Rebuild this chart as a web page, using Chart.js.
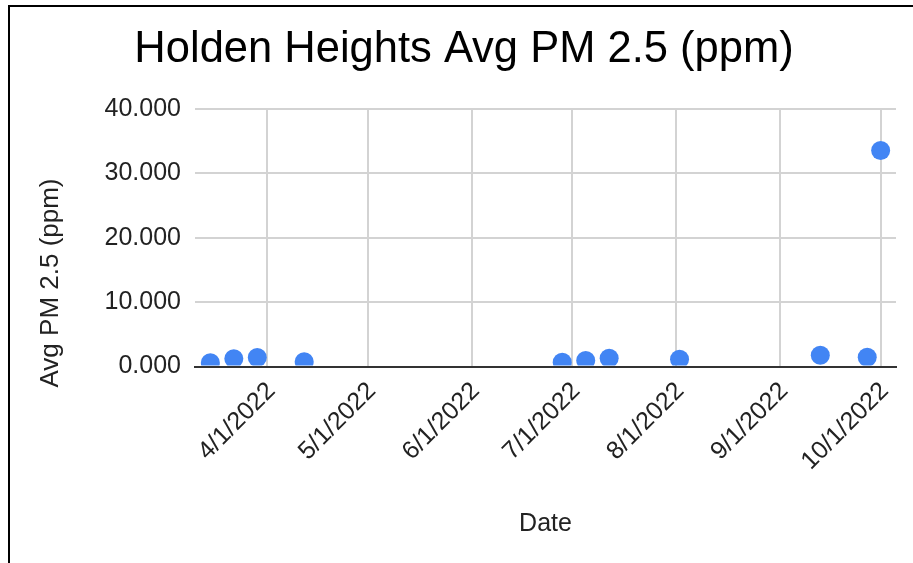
<!DOCTYPE html>
<html>
<head>
<meta charset="utf-8">
<script src="https://cdn.jsdelivr.net/npm/chart.js@4.4.1/dist/chart.umd.min.js"></script>
<style>
  html, body { margin: 0; padding: 0; background: #ffffff; }
  #frame { position: absolute; left: 8px; top: 5px; width: 920px; height: 570px;
           border-left: 2px solid #000; border-top: 2px solid #000; }
  #wrap { position: absolute; left: 0; top: 0; width: 913px; height: 563px; }
</style>
</head>
<body>
<div id="frame"></div>
<div id="wrap"><canvas id="c" width="913" height="563"></canvas></div>
<script>
// ---- data ----
const chartTitle = 'Holden Heights Avg PM 2.5 (ppm)';
const xTitle = 'Date';
const yTitle = 'Avg PM 2.5 (ppm)';
const sampleDates = ['2022-03-15','2022-03-22','2022-03-29','2022-04-12','2022-06-28','2022-07-05','2022-07-12','2022-08-02','2022-09-13','2022-09-27','2022-10-01'];
const pm25Values = [0.57, 1.20, 1.40, 0.73, 0.67, 0.93, 1.29, 1.14, 1.76, 1.45, 33.56];
const xTickDates = ['2022-04-01','2022-05-01','2022-06-01','2022-07-01','2022-08-01','2022-09-01','2022-10-01'];
const xTickLabels = ['4/1/2022','5/1/2022','6/1/2022','7/1/2022','8/1/2022','9/1/2022','10/1/2022'];
const yTickValues = [0, 10, 20, 30, 40];
const xRangeStart = '2022-03-10T10:00:00Z';
const xRangeEnd = '2022-10-05T14:00:00Z';

const toMs = s => Date.parse(s.length === 10 ? s + 'T00:00:00Z' : s);
const points = sampleDates.map((d, i) => ({ x: toMs(d), y: pm25Values[i] }));
const FONT = "'Liberation Sans', Arial, sans-serif";
const TEXT = '#222222';

const yTitlePlugin = {
  id: 'yTitlePlugin',
  afterDraw(chart) {
    const ctx = chart.ctx;
    ctx.save();
    ctx.translate(51, 283);
    ctx.rotate(-Math.PI / 2);
    ctx.font = "26px " + FONT;
    ctx.fillStyle = TEXT;
    ctx.textAlign = 'center';
    ctx.textBaseline = 'middle';
    ctx.fillText(yTitle, 0, 0);
    ctx.restore();
  }
};

new Chart(document.getElementById('c'), {
  type: 'scatter',
  data: {
    datasets: [{
      data: points,
      backgroundColor: '#4285F4',
      borderWidth: 0,
      pointRadius: 9.5,
      pointHoverRadius: 9.5,
      clip: { left: 0, top: 0, right: 0, bottom: -1 }
    }]
  },
  options: {
    responsive: false,
    animation: false,
    devicePixelRatio: 1,
    layout: { padding: { left: 32, right: 17, top: 0, bottom: 0 } },
    plugins: {
      legend: { display: false },
      tooltip: { enabled: false },
      title: {
        display: true,
        text: chartTitle,
        color: '#000',
        font: { family: FONT, size: 43.5, weight: 'normal' },
        padding: { top: 24, bottom: 32.8 }
      }
    },
    scales: {
      x: {
        type: 'linear',
        min: toMs(xRangeStart),
        max: toMs(xRangeEnd),
        afterBuildTicks: s => { s.ticks = xTickDates.map(d => ({ value: toMs(d) })); },
        afterFit: s => { s.height = 196.5; },
        grid: { color: '#d3d3d3', lineWidth: 2, drawTicks: false },
        border: { display: true, color: '#333333', width: 2 },
        ticks: {
          autoSkip: false,
          maxRotation: 45,
          minRotation: 45,
          padding: 10,
          labelOffset: 4,
          color: TEXT,
          font: { family: FONT, size: 25 },
          callback: (v, i) => xTickLabels[i]
        },
        title: {
          display: true,
          text: xTitle,
          color: TEXT,
          font: { family: FONT, size: 25 },
          padding: { top: 0, bottom: 24 }
        }
      },
      y: {
        min: 0,
        max: 40,
        afterBuildTicks: s => { s.ticks = yTickValues.map(v => ({ value: v })); },
        afterFit: s => { s.width = 163; },
        grid: {
          color: c => (c.tick && c.tick.value === 0) ? 'rgba(0,0,0,0)' : '#d3d3d3',
          lineWidth: 2,
          drawTicks: false
        },
        border: { display: false },
        ticks: {
          padding: 14,
          color: TEXT,
          font: { family: FONT, size: 25 },
          callback: v => Number(v).toFixed(3)
        }
      }
    }
  },
  plugins: [yTitlePlugin]
});
</script>
</body>
</html>
